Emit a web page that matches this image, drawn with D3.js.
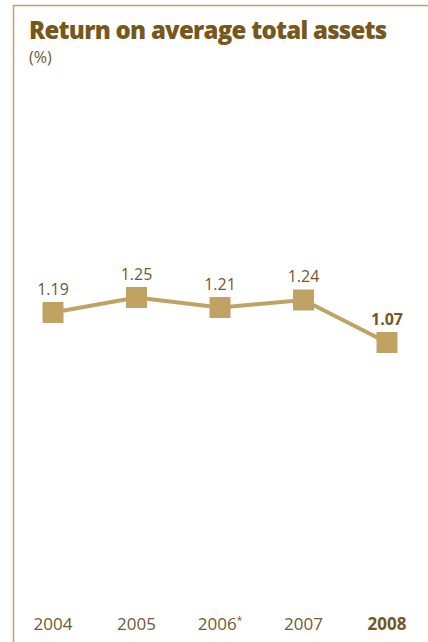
<!DOCTYPE html>
<html>
<head>
<meta charset="utf-8">
<script src="https://cdn.jsdelivr.net/npm/d3@7"></script>
<style>
  html, body { margin: 0; padding: 0; background: #fff; }
  svg { display: block; }
</style>
</head>
<body>
<svg id="chart" width="428" height="642"></svg>
<script>
// Return on average total assets, %
const years = ["2004", "2005", "2006", "2007", "2008"];
const yearMarks = ["", "", "*", "", ""];
const values = [1.19, 1.25, 1.21, 1.24, 1.07];
const valueLabels = ["1.19", "1.25", "1.21", "1.24", "1.07"];
const highlightIndex = 4;

const W = 428, H = 642;
const gold = "#c0a264";
const brown = "#76581c";
const textBrown = "#6e5a33";
const font = "'Open Sans', 'Noto Sans', sans-serif";

const svg = d3.select("#chart");

// Frame: top and left rule
svg.append("line").attr("x1", 13).attr("x2", W).attr("y1", 5.5).attr("y2", 5.5)
  .attr("stroke", gold).attr("stroke-width", 1.5);
svg.append("line").attr("x1", 13.5).attr("x2", 13.5).attr("y1", 5).attr("y2", H)
  .attr("stroke", gold).attr("stroke-width", 1.5);

// Title
svg.append("text").attr("x", 29).attr("y", 39)
  .attr("font-family", font).attr("font-weight", 800).attr("font-size", 24)
  .attr("fill", brown).attr("letter-spacing", -0.75)
  .text("Return on average total assets");
svg.append("text").attr("x", 29).attr("y", 63)
  .attr("font-family", font).attr("font-size", 16)
  .attr("fill", textBrown).text("(%)");

// Scales
const x = d3.scalePoint().domain(years).range([53, 387]);
const y = d3.scaleLinear().domain([1.0, 1.3]).range([360, 285]);

// Line
const line = d3.line().x((d, i) => x(years[i])).y(d => y(d));
svg.append("path").datum(values).attr("d", line)
  .attr("fill", "none").attr("stroke", gold).attr("stroke-width", 4)
  .attr("stroke-linejoin", "round");

// Square markers
const S = 21;
svg.selectAll("rect.pt").data(values).join("rect").attr("class", "pt")
  .attr("x", (d, i) => x(years[i]) - S / 2)
  .attr("y", d => y(d) - S / 2)
  .attr("width", S).attr("height", S)
  .attr("fill", gold);

// Value labels
svg.selectAll("text.val").data(values).join("text").attr("class", "val")
  .attr("x", (d, i) => x(years[i]))
  .attr("y", d => y(d) - 18)
  .attr("text-anchor", "middle")
  .attr("font-family", font).attr("font-size", 16)
  .attr("font-weight", (d, i) => i === highlightIndex ? 700 : 400)
  .attr("fill", (d, i) => i === highlightIndex ? brown : textBrown)
  .text((d, i) => valueLabels[i]);

// Year labels along the bottom
const yl = svg.selectAll("text.yr").data(years).join("text").attr("class", "yr")
  .attr("x", d => x(d))
  .attr("y", 630)
  .attr("text-anchor", "middle")
  .attr("font-family", font).attr("font-size", 17)
  .attr("font-weight", (d, i) => i === highlightIndex ? 700 : 400)
  .attr("fill", (d, i) => i === highlightIndex ? brown : textBrown);
yl.append("tspan").text(d => d);
yl.append("tspan").attr("font-size", 10).attr("dy", -6)
  .text((d, i) => yearMarks[i]);
</script>
</body>
</html>
